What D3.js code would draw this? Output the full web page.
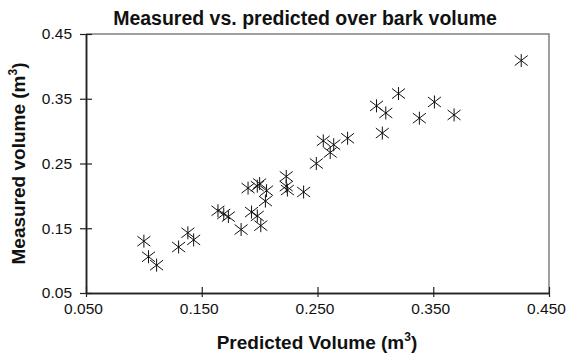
<!DOCTYPE html>
<html>
<head>
<meta charset="utf-8">
<script src="https://cdn.jsdelivr.net/npm/d3@7"></script>
<style>
  body { margin: 0; background: #fff; }
  text { font-family: "Liberation Sans", Arial, Helvetica, sans-serif; fill: #111; }
</style>
</head>
<body>
<div id="chart"></div>
<script>
const MARGIN = { TOP: 34, BOTTOM: 64, LEFT: 86, RIGHT: 18 }
const W = 567, H = 357
const WIDTH = W - MARGIN.LEFT - MARGIN.RIGHT
const HEIGHT = H - MARGIN.TOP - MARGIN.BOTTOM

// predicted volume (m3)
const predicted = [0.100, 0.104, 0.111, 0.130, 0.138, 0.143, 0.164, 0.169, 0.173, 0.184,
	0.190, 0.193, 0.198, 0.200, 0.198, 0.201, 0.206, 0.205, 0.223, 0.223,
	0.224, 0.238, 0.249, 0.255, 0.261, 0.264, 0.276, 0.301, 0.306, 0.309,
	0.320, 0.338, 0.351, 0.368, 0.426]
// measured volume (m3)
const measured = [0.130, 0.106, 0.093, 0.121, 0.143, 0.132, 0.177, 0.172, 0.168, 0.148,
	0.212, 0.175, 0.215, 0.219, 0.169, 0.154, 0.208, 0.192, 0.230, 0.215,
	0.209, 0.206, 0.250, 0.285, 0.267, 0.279, 0.289, 0.339, 0.297, 0.328,
	0.358, 0.320, 0.345, 0.325, 0.409]

const xTicks = [0.05, 0.15, 0.25, 0.35, 0.45]
const yTicks = [0.05, 0.15, 0.25, 0.35, 0.45]

const data = predicted.map((p, i) => ({ p: p, m: measured[i] }))

const svg = d3.select("#chart").append("svg")
	.attr("width", W)
	.attr("height", H)

const g = svg.append("g")
	.attr("transform", `translate(${MARGIN.LEFT}, ${MARGIN.TOP})`)

const x = d3.scaleLinear().domain([0.05, 0.45]).range([0, WIDTH])
const y = d3.scaleLinear().domain([0.05, 0.45]).range([HEIGHT, 0])

// top / right frame (grey)
g.append("path")
	.attr("d", `M0,0H${WIDTH}V${HEIGHT}`)
	.attr("fill", "none")
	.attr("stroke", "#808080")
	.attr("stroke-width", 1.5)

// x axis: outer ticks with labels, then inner half of the ticks
const xAxis = g.append("g").attr("transform", `translate(0, ${HEIGHT})`)
xAxis.call(d3.axisBottom(x).tickValues(xTicks).tickFormat(d3.format(".3f"))
	.tickSizeInner(4).tickSizeOuter(0).tickPadding(6))
xAxis.append("g").call(d3.axisBottom(x).tickValues(xTicks).tickFormat("")
	.tickSizeInner(-6).tickSizeOuter(0))
xAxis.selectAll("text").attr("font-size", 15.5).attr("fill", "#111").attr("dx", -3)
	.style("font-family", "'Liberation Sans', Arial, sans-serif")

const yAxis = g.append("g")
yAxis.call(d3.axisLeft(y).tickValues(yTicks).tickFormat(d3.format(".2f"))
	.tickSizeInner(6).tickSizeOuter(0).tickPadding(8))
yAxis.append("g").call(d3.axisLeft(y).tickValues(yTicks).tickFormat("")
	.tickSizeInner(-6).tickSizeOuter(0))
yAxis.selectAll("text").attr("font-size", 15.5).attr("fill", "#111")
	.style("font-family", "'Liberation Sans', Arial, sans-serif")

g.selectAll(".domain").attr("stroke", "#222").attr("stroke-width", 1.5)
g.selectAll(".tick line").attr("stroke", "#222").attr("stroke-width", 1.2)

// asterisk markers
const star = "M0,-6.5V6.5M-6.5,-5L6.5,5M-6.5,5L6.5,-5"
g.selectAll("path.pt")
	.data(data)
	.enter().append("path")
		.attr("class", "pt")
		.attr("transform", d => `translate(${x(d.p)}, ${y(d.m)})`)
		.attr("d", star)
		.attr("fill", "none")
		.attr("stroke", "#111")
		.attr("stroke-width", 1)

// titles
svg.append("text")
	.attr("x", 305)
	.attr("y", 25)
	.attr("text-anchor", "middle")
	.attr("font-size", 19.5)
	.attr("font-weight", "bold")
	.text("Measured vs. predicted over bark volume")

const xt = svg.append("text")
	.attr("x", 317)
	.attr("y", 349)
	.attr("text-anchor", "middle")
	.attr("font-size", 19)
	.attr("font-weight", "bold")
xt.append("tspan").text("Predicted Volume (m")
xt.append("tspan").attr("font-size", 12).attr("dy", -8).text("3")
xt.append("tspan").attr("dy", 8).text(")")

const yt = svg.append("text")
	.attr("transform", `translate(25, ${MARGIN.TOP + HEIGHT / 2}) rotate(-90)`)
	.attr("text-anchor", "middle")
	.attr("font-size", 19)
	.attr("font-weight", "bold")
yt.append("tspan").text("Measured volume (m")
yt.append("tspan").attr("font-size", 12).attr("dy", -8).text("3")
yt.append("tspan").attr("dy", 8).text(")")
</script>
</body>
</html>
